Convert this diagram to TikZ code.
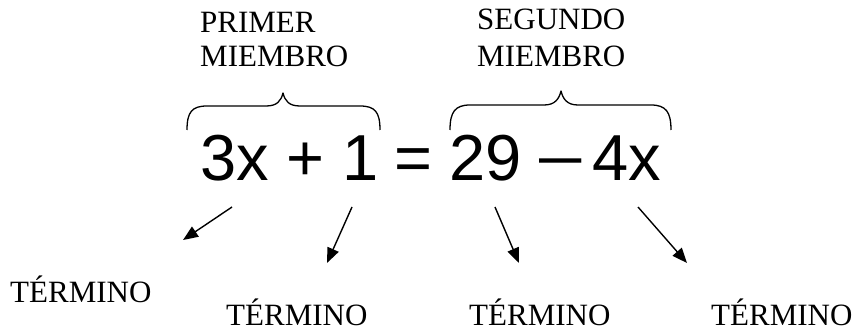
\documentclass[tikz,border=0pt]{standalone}
\usepackage{fontspec}
\usepackage{graphicx}
\setmainfont{Liberation Serif}
\newfontfamily\eqfont{Liberation Sans}
\usetikzlibrary{arrows.meta}
\tikzset{
  lbl/.style={inner sep=0pt, anchor=base west, font=\fontsize{31}{34}\selectfont},
  eq/.style={inner sep=0pt, anchor=base, font=\eqfont\fontsize{65}{70}\selectfont},
  brace/.style={line width=1.3pt, line join=round},
  arr/.style={line width=1.4pt, -{Triangle[length=15pt,width=12pt]}}
}
\begin{document}
\begin{tikzpicture}[x=1pt,y=-1pt]
\useasboundingbox (0,0) rectangle (852,331);
% headings
\node[lbl] (p1) at (200,33) {PRIMER};
\node[lbl] (p2) at (200,67) {MIEMBRO};
\node[lbl] (s1) at (477,30) {SEGUNDO};
\node[lbl] (s2) at (477,67) {MIEMBRO};
% braces
\draw[brace] (187,130) .. controls (187,112) and (192,106) .. (207,106)
  -- (266,106) .. controls (277,106) and (281,101) .. (283,93)
  .. controls (285,101) and (289,106) .. (300,106)
  -- (360,106) .. controls (375,106) and (380,112) .. (380,130);
\draw[brace] (450,130) .. controls (450,112) and (455,105) .. (470,105)
  -- (544,105) .. controls (555,105) and (559,99) .. (561,91)
  .. controls (563,99) and (567,105) .. (578,105)
  -- (651,105) .. controls (666,105) and (671,112) .. (671,130);
% equation
\node[eq] (e1) at (235,181) {3x};
\node[eq] (e2) at (305,181) {+};
\node[eq] (e3) at (360.5,181) {1};
\node[eq] (e4) at (413,181) {=};
\node[eq] (e5) at (485.5,181) {29};
\node[eq] (e6) at (561,181) {\raisebox{3pt}{\scalebox{1.17}[1]{–}}};
\node[eq] (e7) at (626.5,181) {4x};
% terms
\node[lbl] (t1) at (10,303) {TÉRMINO};
\node[lbl] (t2) at (226,325) {TÉRMINO};
\node[lbl] (t3) at (469,325) {TÉRMINO};
\node[lbl] (t4) at (711,325) {TÉRMINO};
% arrow anchors
\coordinate (a1) at (232,207);
\coordinate (b1) at (183,240);
\coordinate (a2) at (352,207);
\coordinate (b2) at (327,263);
\coordinate (a3) at (495,207);
\coordinate (b3) at (519,263);
\coordinate (a4) at (638,207);
\coordinate (b4) at (687,263);
\draw[arr] (a1) -- (b1);
\draw[arr] (a2) -- (b2);
\draw[arr] (a3) -- (b3);
\draw[arr] (a4) -- (b4);
\end{tikzpicture}
\end{document}
